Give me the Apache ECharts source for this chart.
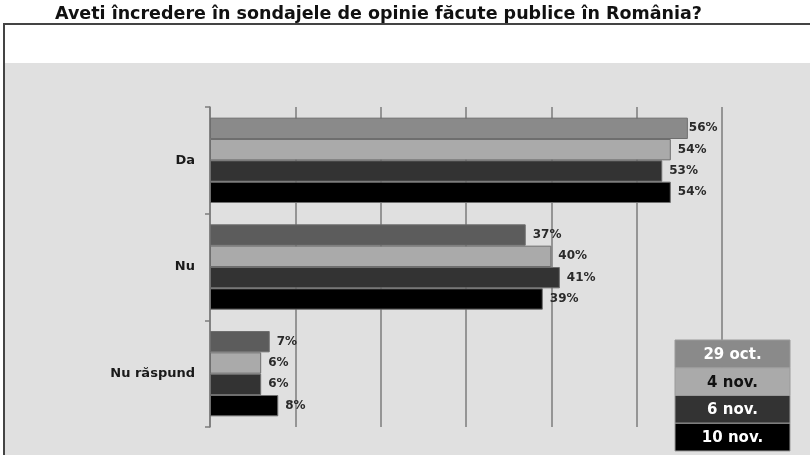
<!DOCTYPE html>
<html>
<head>
<meta charset="utf-8">
<style>
  html, body { margin: 0; padding: 0; background: #ffffff; }
  #chart { width: 810px; height: 455px; }
</style>
<script src="https://cdn.jsdelivr.net/npm/echarts@6/dist/echarts.min.js"></script>
</head>
<body>
<div id="chart"></div>
<script>
// Survey question and answers
const titleText = 'Aveti încredere în sondajele de opinie făcute publice în România?';
const categories = ['Da', 'Nu', 'Nu răspund'];

// Poll waves (legend order)
const waves = ['29 oct.', '4 nov.', '6 nov.', '10 nov.'];

// Share of respondents per answer, in percent
const oct29 = [56, 37, 7];
const nov4 = [54, 40, 6];
const nov6 = [53, 41, 6];
const nov10 = [54, 39, 8];
const waveValues = [oct29, nov4, nov6, nov10];

// Percentage axis ticks
const axisMin = 0;
const axisMax = 60;
const axisStep = 10;

// Fill colours
const waveColors = ['#8a8a8a', '#aaaaaa', '#333333', '#000000'];
const oct29ItemColors = ['#8a8a8a', '#5c5c5c', '#5c5c5c'];
const legendTextColors = ['#ffffff', '#111111', '#ffffff', '#ffffff'];

const FONT = '"DejaVu Sans", "Liberation Sans", Arial, sans-serif';

const chart = echarts.init(document.getElementById('chart'), null, { renderer: 'canvas' });

const series = waves.map((name, s) => ({
  name: name,
  type: 'bar',
  barGap: '0%',
  barCategoryGap: '20%',
  data: waveValues[s].map((v, i) => {
    const item = { value: v };
    if (s === 0) item.itemStyle = { color: oct29ItemColors[i] };
    if (s === 0 && i === 0) item.label = { distance: 1 };
    return item;
  }),
  itemStyle: {
    color: waveColors[s],
    borderColor: '#6e6e6e',
    borderWidth: 1
  },
  label: {
    show: true,
    position: 'right',
    distance: 7,
    formatter: p => p.value + '%',
    fontFamily: FONT,
    fontSize: 12,
    fontWeight: 'bold',
    color: '#2a2a2a'
  },
  emphasis: { disabled: true },
  animation: false
}));

// Legend table in the lower right corner
const legendX = 675, legendY = 340, cellW = 115, cellH = 27.75;
const legendCells = [];
waves.forEach((name, i) => {
  legendCells.push({
    type: 'rect',
    shape: { x: legendX, y: legendY + i * cellH, width: cellW, height: cellH },
    style: { fill: waveColors[i], stroke: '#9a9a9a', lineWidth: 1 },
    z: 10
  });
  legendCells.push({
    type: 'text',
    x: legendX + cellW / 2,
    y: legendY + i * cellH + cellH / 2 + 1,
    style: {
      text: name,
      fill: legendTextColors[i],
      font: 'bold 15px ' + FONT,
      textAlign: 'center',
      textVerticalAlign: 'middle'
    },
    z: 11
  });
});

chart.setOption({
  backgroundColor: '#ffffff',
  animation: false,
  graphic: [
    // plot area background
    {
      type: 'rect',
      shape: { x: 5, y: 63, width: 805, height: 392 },
      style: { fill: '#e0e0e0' },
      z: -10
    },
    // frame around the chart
    {
      type: 'polyline',
      shape: { points: [[4, 460], [4, 24], [815, 24]] },
      style: { stroke: '#444444', lineWidth: 2, fill: null },
      z: -5
    },
    // title
    {
      type: 'text',
      x: 55,
      y: 23,
      style: {
        text: titleText,
        fill: '#111111',
        font: 'bold 17.5px ' + FONT,
        textAlign: 'left',
        textVerticalAlign: 'bottom'
      }
    }
  ].concat(legendCells),
  grid: {
    left: 210,
    right: 88,
    top: 107,
    bottom: 28,
    containLabel: false
  },
  xAxis: {
    type: 'value',
    min: axisMin,
    max: axisMax,
    interval: axisStep,
    axisLine: { show: false },
    axisTick: { show: false },
    axisLabel: { show: false },
    splitLine: { show: true, lineStyle: { color: '#7c7c7c', width: 1.5 } }
  },
  yAxis: {
    type: 'category',
    data: categories,
    inverse: true,
    axisLine: { show: true, lineStyle: { color: '#7c7c7c', width: 1.5 } },
    axisTick: { show: true, length: 5, inside: false, lineStyle: { color: '#7c7c7c', width: 1.5 } },
    axisLabel: {
      margin: 15,
      fontFamily: FONT,
      fontSize: 13,
      fontWeight: 'bold',
      color: '#1a1a1a'
    },
    splitLine: { show: false }
  },
  tooltip: { show: false },
  series: series
});
</script>
</body>
</html>
